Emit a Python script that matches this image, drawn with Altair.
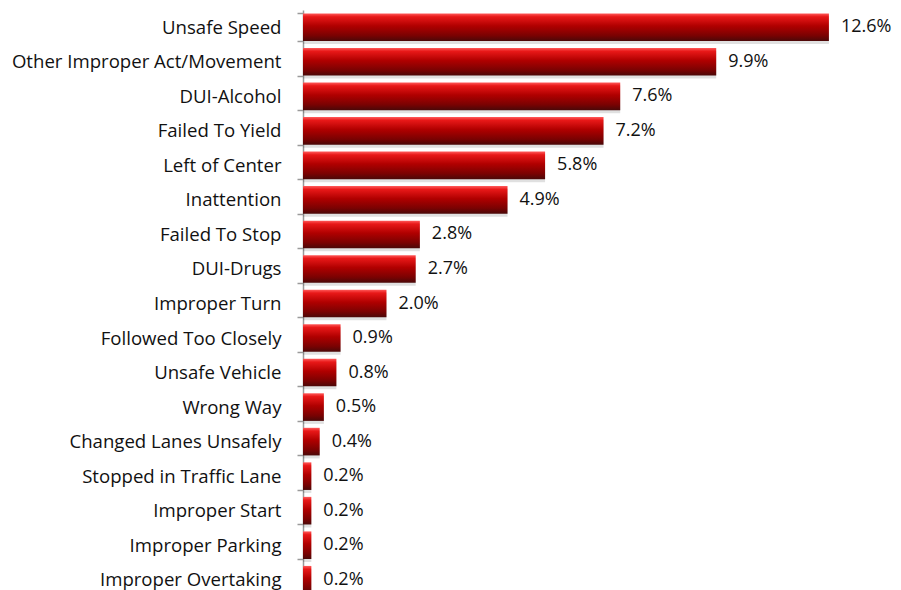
import altair as alt
import pandas as pd

categories = ["Unsafe Speed", "Other Improper Act/Movement", "DUI-Alcohol", "Failed To Yield",
              "Left of Center", "Inattention", "Failed To Stop", "DUI-Drugs", "Improper Turn",
              "Followed Too Closely", "Unsafe Vehicle", "Wrong Way", "Changed Lanes Unsafely",
              "Stopped in Traffic Lane", "Improper Start", "Improper Parking", "Improper Overtaking"]
values = [12.6, 9.9, 7.6, 7.2, 5.8, 4.9, 2.8, 2.7, 2.0, 0.9, 0.8, 0.5, 0.4, 0.2, 0.2, 0.2, 0.2]
labels = ["12.6%", "9.9%", "7.6%", "7.2%", "5.8%", "4.9%", "2.8%", "2.7%", "2.0%",
          "0.9%", "0.8%", "0.5%", "0.4%", "0.2%", "0.2%", "0.2%", "0.2%"]

df = pd.DataFrame({"cat": categories, "val": values, "lab": labels})

FONT = "Open Sans"
FS = 18.6

grad = alt.Gradient(
    gradient="linear", x1=0, y1=0, x2=0, y2=1,
    stops=[
        alt.GradientStop(color="#ff5a5a", offset=0),
        alt.GradientStop(color="#e81818", offset=0.12),
        alt.GradientStop(color="#b00000", offset=0.45),
        alt.GradientStop(color="#7a0202", offset=0.8),
        alt.GradientStop(color="#4a0808", offset=1),
    ],
)

y = alt.Y("cat:N", sort=categories, title=None,
          scale=alt.Scale(paddingInner=0.2, paddingOuter=0.1),
          axis=alt.Axis(domainColor="#9a9a9a", domainWidth=1.5, tickColor="#9a9a9a",
                        tickWidth=1.5, tickSize=6, tickBand="extent", labelPadding=16,
                        labelFont=FONT, labelFontSize=FS, labelColor="#111111",
                        labelLimit=400))
x = alt.X("val:Q", title=None, scale=alt.Scale(domain=[0, 13.8], nice=False), axis=None)

shadow = alt.Chart(df).mark_bar(color="#000000", opacity=0.12).encode(
    x=x, y=y, yOffset=alt.value(3))
bars = alt.Chart(df).mark_bar(color=grad).encode(x=x, y=y)
text = alt.Chart(df).mark_text(align="left", baseline="middle", dx=12, font=FONT,
                               fontSize=18, color="#111111").encode(x=x, y=y, text="lab:N")

chart = alt.layer(shadow, bars, text).properties(
    width=576, height=587,
    autosize=alt.AutoSizeParams(type="none"),
    padding={"left": 295, "top": 2, "right": 14, "bottom": 0},
).configure(background="white").configure_view(strokeWidth=0, stroke="transparent")

chart.save("out.html", embed_options={"renderer": "svg", "actions": False})
